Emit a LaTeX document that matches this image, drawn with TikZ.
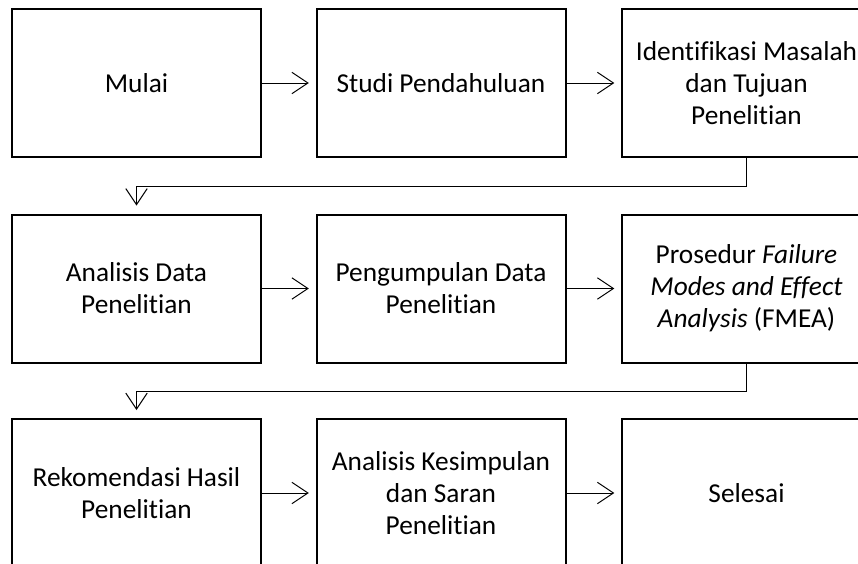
\documentclass[tikz,border=0pt]{standalone}
\usepackage{fontspec}
\setmainfont{Carlito}[Ligatures=NoCommon]
\usepackage{tikz}
\usetikzlibrary{arrows.meta}

\begin{document}
\begin{tikzpicture}[x=0.75pt,y=0.75pt,yscale=-1,xscale=1,
  box/.style={draw,line width=1.5pt,minimum width=186.75pt,minimum height=111pt,inner sep=2pt,
    align=center,font=\fontsize{20.5pt}{24pt}\selectfont},
  arr/.style={line width=0.75pt,-{Straight Barb[length=12pt,width=16pt,line width=0.75pt]}}]
%set diagram at 858 x 564
\useasboundingbox (0,0) rectangle (858,564);

%Shape: Rectangle row 1
\node [box] (mulai) at (136.5,83) {Mulai};
\node [box] (studi) at (441,83) {Studi Pendahuluan};
\node [box] (identifikasi) at (746.5,83) {Identifikasi Masalah\\dan Tujuan\\Penelitian};
%Shape: Rectangle row 2
\node [box] (analisis) at (136.5,288.5) {Analisis Data\\Penelitian};
\node [box] (pengumpulan) at (441,288.5) {Pengumpulan Data\\Penelitian};
\node [box] (fmea) at (746.5,288.5) {Prosedur \textit{Failure}\\\textit{Modes and Effect}\\\textit{Analysis} (FMEA)};
%Shape: Rectangle row 3
\node [box] (rekomendasi) at (136.5,493) {Rekomendasi Hasil\\Penelitian};
\node [box] (kesimpulan) at (441,493) {Analisis Kesimpulan\\dan Saran\\Penelitian};
\node [box] (selesai) at (746.5,493) {Selesai};

%Straight Lines
\draw [arr,shorten >=5pt] (mulai.east) -- (studi.west);
\draw [arr,shorten >=5pt] (studi.east) -- (identifikasi.west);
\draw [arr,shorten >=6pt] (identifikasi.south) -- ++(0,28) -| (analisis.north);
\draw [arr,shorten >=5pt] (analisis.east) -- (pengumpulan.west);
\draw [arr,shorten >=5pt] (pengumpulan.east) -- (fmea.west);
\draw [arr,shorten >=6pt] (fmea.south) -- ++(0,28) -| (rekomendasi.north);
\draw [arr,shorten >=5pt] (rekomendasi.east) -- (kesimpulan.west);
\draw [arr,shorten >=5pt] (kesimpulan.east) -- (selesai.west);

\end{tikzpicture}
\end{document}
